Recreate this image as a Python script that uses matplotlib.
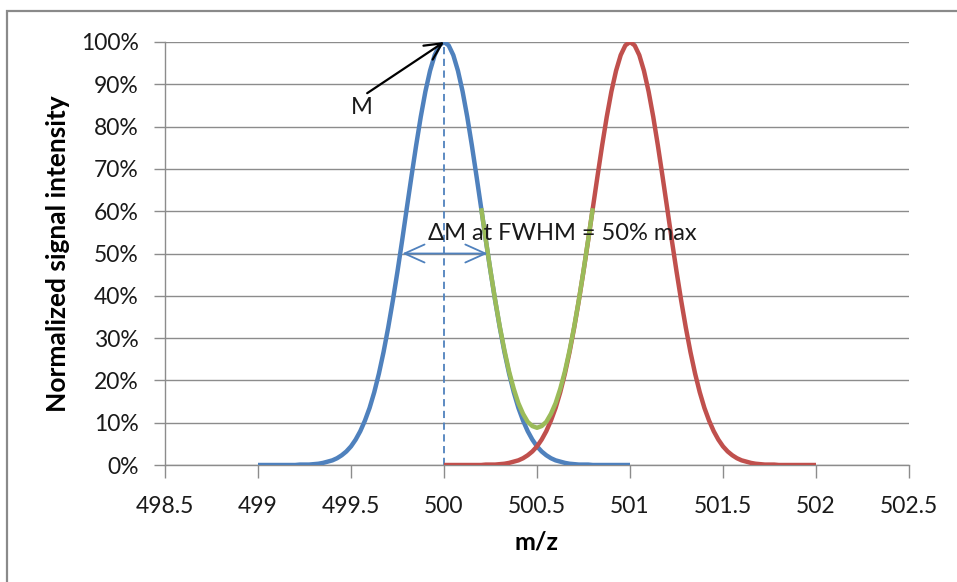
import numpy as np
import matplotlib
matplotlib.use("Agg")
import matplotlib.pyplot as plt
from matplotlib.patches import Rectangle

# ---- data ----
# blue peak (centred at m/z 500), sampled every 0.025 from 499 to 501
blue_mz = np.round(np.arange(499.0, 501.0001, 0.025), 3)
half_profile = [0.000, 0.000, 0.000, 0.000, 0.000, 0.000, 0.000, 0.000, 0.000,
                0.001, 0.001, 0.001, 0.002, 0.003, 0.005, 0.008, 0.011, 0.016,
                0.023, 0.032, 0.044, 0.060, 0.080, 0.105, 0.135, 0.172, 0.216,
                0.267, 0.325, 0.389, 0.458, 0.531, 0.607, 0.682, 0.755, 0.823,
                0.883, 0.932, 0.969, 0.992]
blue_intensity = half_profile + [1.000] + half_profile[::-1]

# red peak (centred at m/z 501), same shape, sampled from 500 to 502
red_mz = np.round(np.arange(500.0, 502.0001, 0.025), 3)
red_intensity = list(blue_intensity)

# green: summed signal in the overlap region
green_mz = np.round(np.arange(500.2, 500.8001, 0.025), 3)
green_half = [0.607, 0.532, 0.459, 0.390, 0.327, 0.271, 0.221, 0.180,
              0.146, 0.121, 0.102, 0.092]
green_intensity = green_half + [0.088] + green_half[::-1]

x_ticks = [498.5, 499, 499.5, 500, 500.5, 501, 501.5, 502, 502.5]
x_tick_labels = ["498.5", "499", "499.5", "500", "500.5", "501", "501.5", "502", "502.5"]
y_ticks = [0, 0.1, 0.2, 0.3, 0.4, 0.5, 0.6, 0.7, 0.8, 0.9, 1.0]
y_tick_labels = ["0%", "10%", "20%", "30%", "40%", "50%", "60%", "70%", "80%", "90%", "100%"]

peak_m = 500.0
fwhm_left, fwhm_right = 499.776, 500.234
m_label_pos = (499.56, 0.845)
m_arrow_start = (499.587, 0.879)
fwhm_text_pos = (499.915, 0.548)

# ---- styling ----
BLUE = "#4F81BD"
RED = "#C0504D"
GREEN = "#9BBB59"
GRID = "#8C8C8C"
TEXT = "#1a1a1a"
FONT = "Lato"

plt.rcParams["font.family"] = [FONT, "DejaVu Sans"]

fig = plt.figure(figsize=(9.57, 5.82), dpi=100)
fig.patches.append(Rectangle((7 / 957, -0.05), 1.0, 1 - 11 / 582 + 0.05,
                             transform=fig.transFigure, fill=False,
                             edgecolor="#8A8A8A", linewidth=1.6))

ax = fig.add_axes([165 / 957, 1 - 465 / 582, (909 - 165) / 957, (465 - 42) / 582])

ax.set_xlim(498.5, 502.5)
ax.set_ylim(0, 1.0)
ax.set_xticks(x_ticks)
ax.set_xticklabels(x_tick_labels)
ax.set_yticks(y_ticks)
ax.set_yticklabels(y_tick_labels)

ax.grid(axis="y", color=GRID, linewidth=1.0)
ax.set_axisbelow(True)
for s in ["top", "right"]:
    ax.spines[s].set_visible(False)
for s in ["left", "bottom"]:
    ax.spines[s].set_color(GRID)
    ax.spines[s].set_linewidth(1.0)
ax.tick_params(axis="both", direction="out", width=1.0, color=GRID,
               labelcolor=TEXT, labelsize=16.5)
ax.tick_params(axis="x", length=9, pad=13)
ax.tick_params(axis="y", length=8, pad=11)

ax.vlines(peak_m, 0, 1.0, colors=BLUE, linestyles=(0, (4, 2.5)), linewidth=1.3, zorder=2)

ax.plot(blue_mz, blue_intensity, color=BLUE, linewidth=3.2, solid_capstyle="butt", zorder=3)
ax.plot(red_mz, red_intensity, color=RED, linewidth=3.2, solid_capstyle="butt", zorder=3)
ax.plot(green_mz, green_intensity, color=GREEN, linewidth=3.2, solid_capstyle="butt", zorder=4)

ax.annotate("", xy=(peak_m, 1.0), xytext=m_arrow_start,
            arrowprops=dict(arrowstyle="->,head_length=0.6,head_width=0.3", color="black",
                            lw=1.6, mutation_scale=20, shrinkA=0, shrinkB=0),
            zorder=5, annotation_clip=False)
ax.text(m_label_pos[0], m_label_pos[1], "M", fontsize=17, ha="center", va="center",
        color=TEXT)

ax.annotate("", xy=(fwhm_left, 0.5), xytext=(fwhm_right, 0.5),
            arrowprops=dict(arrowstyle="<->,head_length=0.6,head_width=0.27", color=BLUE,
                            lw=1.3, mutation_scale=24, shrinkA=0, shrinkB=0), zorder=5)
ax.text(fwhm_text_pos[0], fwhm_text_pos[1], "\u0394M at FWHM = 50% max", fontsize=17,
        ha="left", va="center", color=TEXT, zorder=6)

ax.set_xlabel("m/z", fontsize=18, fontweight="bold", labelpad=10)
ax.set_ylabel("Normalized signal intensity", fontsize=19, fontweight="bold", labelpad=8)

fig.savefig("out.png", dpi=100)
